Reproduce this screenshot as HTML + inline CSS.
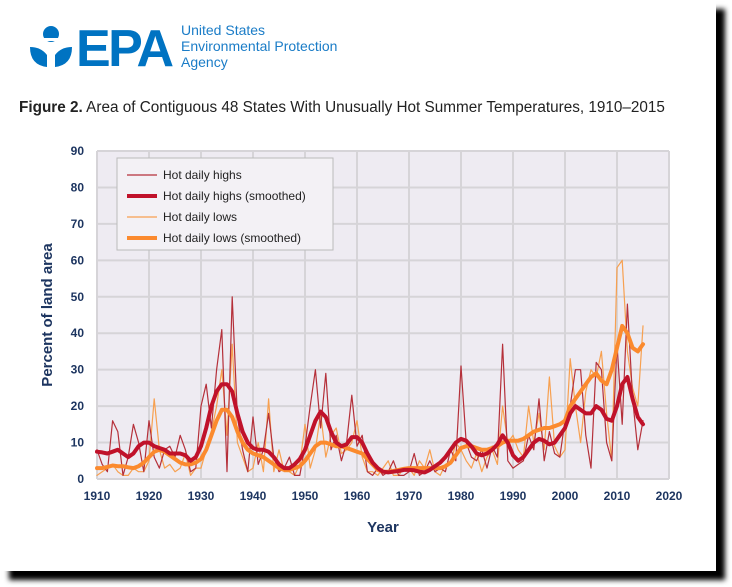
<!DOCTYPE html>
<html><head><meta charset="utf-8">
<style>
html,body{margin:0;padding:0;background:#fff;width:732px;height:587px;overflow:hidden}
#card{position:absolute;left:0;top:0;width:716px;height:571px;background:#fff;box-shadow:9px 9px 5px #000}
.t{font-family:"Liberation Sans",sans-serif}
</style></head><body>
<div id="card">
<svg width="732" height="587" style="position:absolute;left:0;top:0">
 <g fill="#0073c2">
  <circle cx="51" cy="34" r="8"/>
  <path d="M39 38 h24 v3 h-24z" fill="#fff"/>
  <path d="M30 47 q0 18 17 20 v-12 q-6 -8 -17 -8z"/>
  <path d="M72 47 q0 18 -17 20 v-12 q6 -8 17 -8z"/>
  <text x="76" y="66" font-family="Liberation Sans,sans-serif" font-weight="bold" font-size="52" letter-spacing="-2.5">EPA</text>
 </g>
 <text class="t" x="181" y="35" font-size="14" fill="#1a7cc7">United States</text>
 <text class="t" x="181" y="51" font-size="14" fill="#1a7cc7">Environmental Protection</text>
 <text class="t" x="181" y="67" font-size="14" fill="#1a7cc7">Agency</text>
 <text class="t" x="19" y="112" font-size="15.3" fill="#222"><tspan font-weight="bold">Figure 2.</tspan> Area of Contiguous 48 States With Unusually Hot Summer Temperatures, 1910–2015</text>
 <rect x="97" y="151" width="572" height="328" fill="#eeebf2"/>
 <g id="grid"></g>
 <g id="series"></g>
 <g id="axes"></g>
 <text class="t" transform="translate(52,315) rotate(-90)" text-anchor="middle" font-size="15" font-weight="bold" fill="#1d3560">Percent of land area</text>
 <text class="t" x="383" y="532" text-anchor="middle" font-size="15" font-weight="bold" fill="#1d3560">Year</text>
 <g>
  <rect x="117" y="158" width="216" height="92" fill="#f3f1f5" stroke="#bbb" stroke-width="1"/>
  <line x1="127" y1="175" x2="157" y2="175" stroke="#b5303a" stroke-width="1.2"/>
  <text class="t" x="163" y="179" font-size="12" fill="#222">Hot daily highs</text>
  <line x1="127" y1="196" x2="157" y2="196" stroke="#c0122a" stroke-width="4"/>
  <text class="t" x="163" y="200" font-size="12" fill="#222">Hot daily highs (smoothed)</text>
  <line x1="127" y1="217" x2="157" y2="217" stroke="#f7a050" stroke-width="1.2"/>
  <text class="t" x="163" y="221" font-size="12" fill="#222">Hot daily lows</text>
  <line x1="127" y1="238" x2="157" y2="238" stroke="#fb8a2e" stroke-width="4"/>
  <text class="t" x="163" y="242" font-size="12" fill="#222">Hot daily lows (smoothed)</text>
 </g>
</svg>
</div>
<script>
const startYear = 1910;
const xTicks = [1910,1920,1930,1940,1950,1960,1970,1980,1990,2000,2010,2020];
const yTicks = [0,10,20,30,40,50,60,70,80,90];
const highs = [8,4,2,16,13,1,6,15,10,2, 16,6,3,8,9,6,12,8,2,3, 20,26,14,30,41,2,50,17,8,2, 17,4,8,18,6,2,3,6,1,1, 9,20,30,14,29,8,12,5,10,23, 9,12,2,1,3,1,2,5,1,1, 2,7,1,2,5,2,3,2,8,5, 31,10,6,5,8,3,9,6,37,5, 3,4,5,12,8,22,5,13,7,6, 16,20,30,30,12,3,32,30,10,5, 37,15,48,22,8,16];
const highsSmoothed = [7.5,7.3,7,7.5,8,7,6,7,9,10, 10,9,8.5,8,7,7,7,6.5,5,6, 9,14,20,24,26,26,24,18,13,10, 8.5,8,8,7.5,6,4,3,3,4,5.5, 8,12,16,18.5,17,13,10,9,9.5,11.5, 11.5,10,7,4.5,3,2,1.8,2,2.2,2.5, 2.5,2.4,2,1.8,2.5,3.5,4.5,6,8,10, 11,10.5,9,7,6.5,7,8,9.5,12,10, 6.5,5,6,8,10,11,10.5,9.5,10,12, 14,18,20,19,18,18,20,19,16.5,16, 20,26,28,22,17,15];
const lows = [1,2,3,4,2,1,1,3,2,2, 5,22,8,3,4,2,3,7,1,3, 3,8,13,20,30,12,37,10,6,2, 3,10,2,22,2,8,2,2,1,4, 15,3,8,18,6,12,14,7,8,10, 16,6,2,2,1,3,5,1,1,3, 3,1,5,3,8,2,1,4,4,10, 8,5,3,7,2,6,8,4,20,10, 12,8,6,20,10,18,8,28,9,6, 8,33,20,10,24,30,28,35,18,5, 58,60,35,25,20,42];
const lowsSmoothed = [3,3,3.3,3.7,3.5,3.5,3.2,3,3.5,4.5, 6,7.5,8,7.5,6.5,5.5,4.5,4,4,4.5, 5.5,8,12,16,19,19,17,13,10,8, 7,6.5,6,5,4,3,2.5,2.5,3,3.5, 5,7,9,10,10,9.5,9,9,8.5,8, 7.5,7,5.5,4,2.5,2,2,2.2,2.5,2.8, 3,3,3,3,3,3,3,3.5,4.5,6.5, 8.5,9,9,8.5,8,8,8.5,9,10,10.5, 10.5,10.5,11,12,13,13.5,14,14,14.5,15, 16,20,22,24,26,28,29,27,26,30, 36,42,40,36,35,37];

const NS='http://www.w3.org/2000/svg';
const X=yr=>97+(yr-1910)*(572/110);
const Y=v=>479-v*(328/90);
function mk(tag,attrs,parent){const e=document.createElementNS(NS,tag);for(const k in attrs)e.setAttribute(k,attrs[k]);parent.appendChild(e);return e;}
const grid=document.getElementById('grid'),axes=document.getElementById('axes'),ser=document.getElementById('series');
xTicks.forEach(t=>{
 const l=mk('line',{x1:X(t),x2:X(t),y1:151,y2:479,stroke:'#d6d4d8','stroke-width':2},grid);
 
 
 const tx=mk('text',{x:X(t),y:500,'text-anchor':'middle','font-size':12,'font-weight':'bold',fill:'#1d3560','font-family':'Liberation Sans,sans-serif'},axes);
 tx.textContent=t;
 
 
});
yTicks.forEach(t=>{
 const l=mk('line',{x1:97,x2:669,y1:Y(t),y2:Y(t),stroke:'#d6d4d8','stroke-width':2},grid);
 
 
 const tx=mk('text',{x:84,y:Y(t)+4,'text-anchor':'end','font-size':12,'font-weight':'bold',fill:'#1d3560','font-family':'Liberation Sans,sans-serif'},axes);
 tx.textContent=t;
 
 
});
function line(arr,color,w,name){
 const d=arr.map((v,i)=>(i?'L':'M')+X(startYear+i).toFixed(1)+' '+Y(v).toFixed(1)).join(' ');
 const p=mk('path',{d:d,fill:'none',stroke:color,'stroke-width':w,'stroke-linejoin':'round','stroke-linecap':'round'},ser);
 
 
}
line(lows,'#f7a050',1.2,'hot-daily-lows-line');
line(highs,'#b5303a',1.2,'hot-daily-highs-line');
line(lowsSmoothed,'#fb8a2e',4,'hot-daily-lows-smoothed-line');
line(highsSmoothed,'#c0122a',4,'hot-daily-highs-smoothed-line');
</script>
</body></html>
